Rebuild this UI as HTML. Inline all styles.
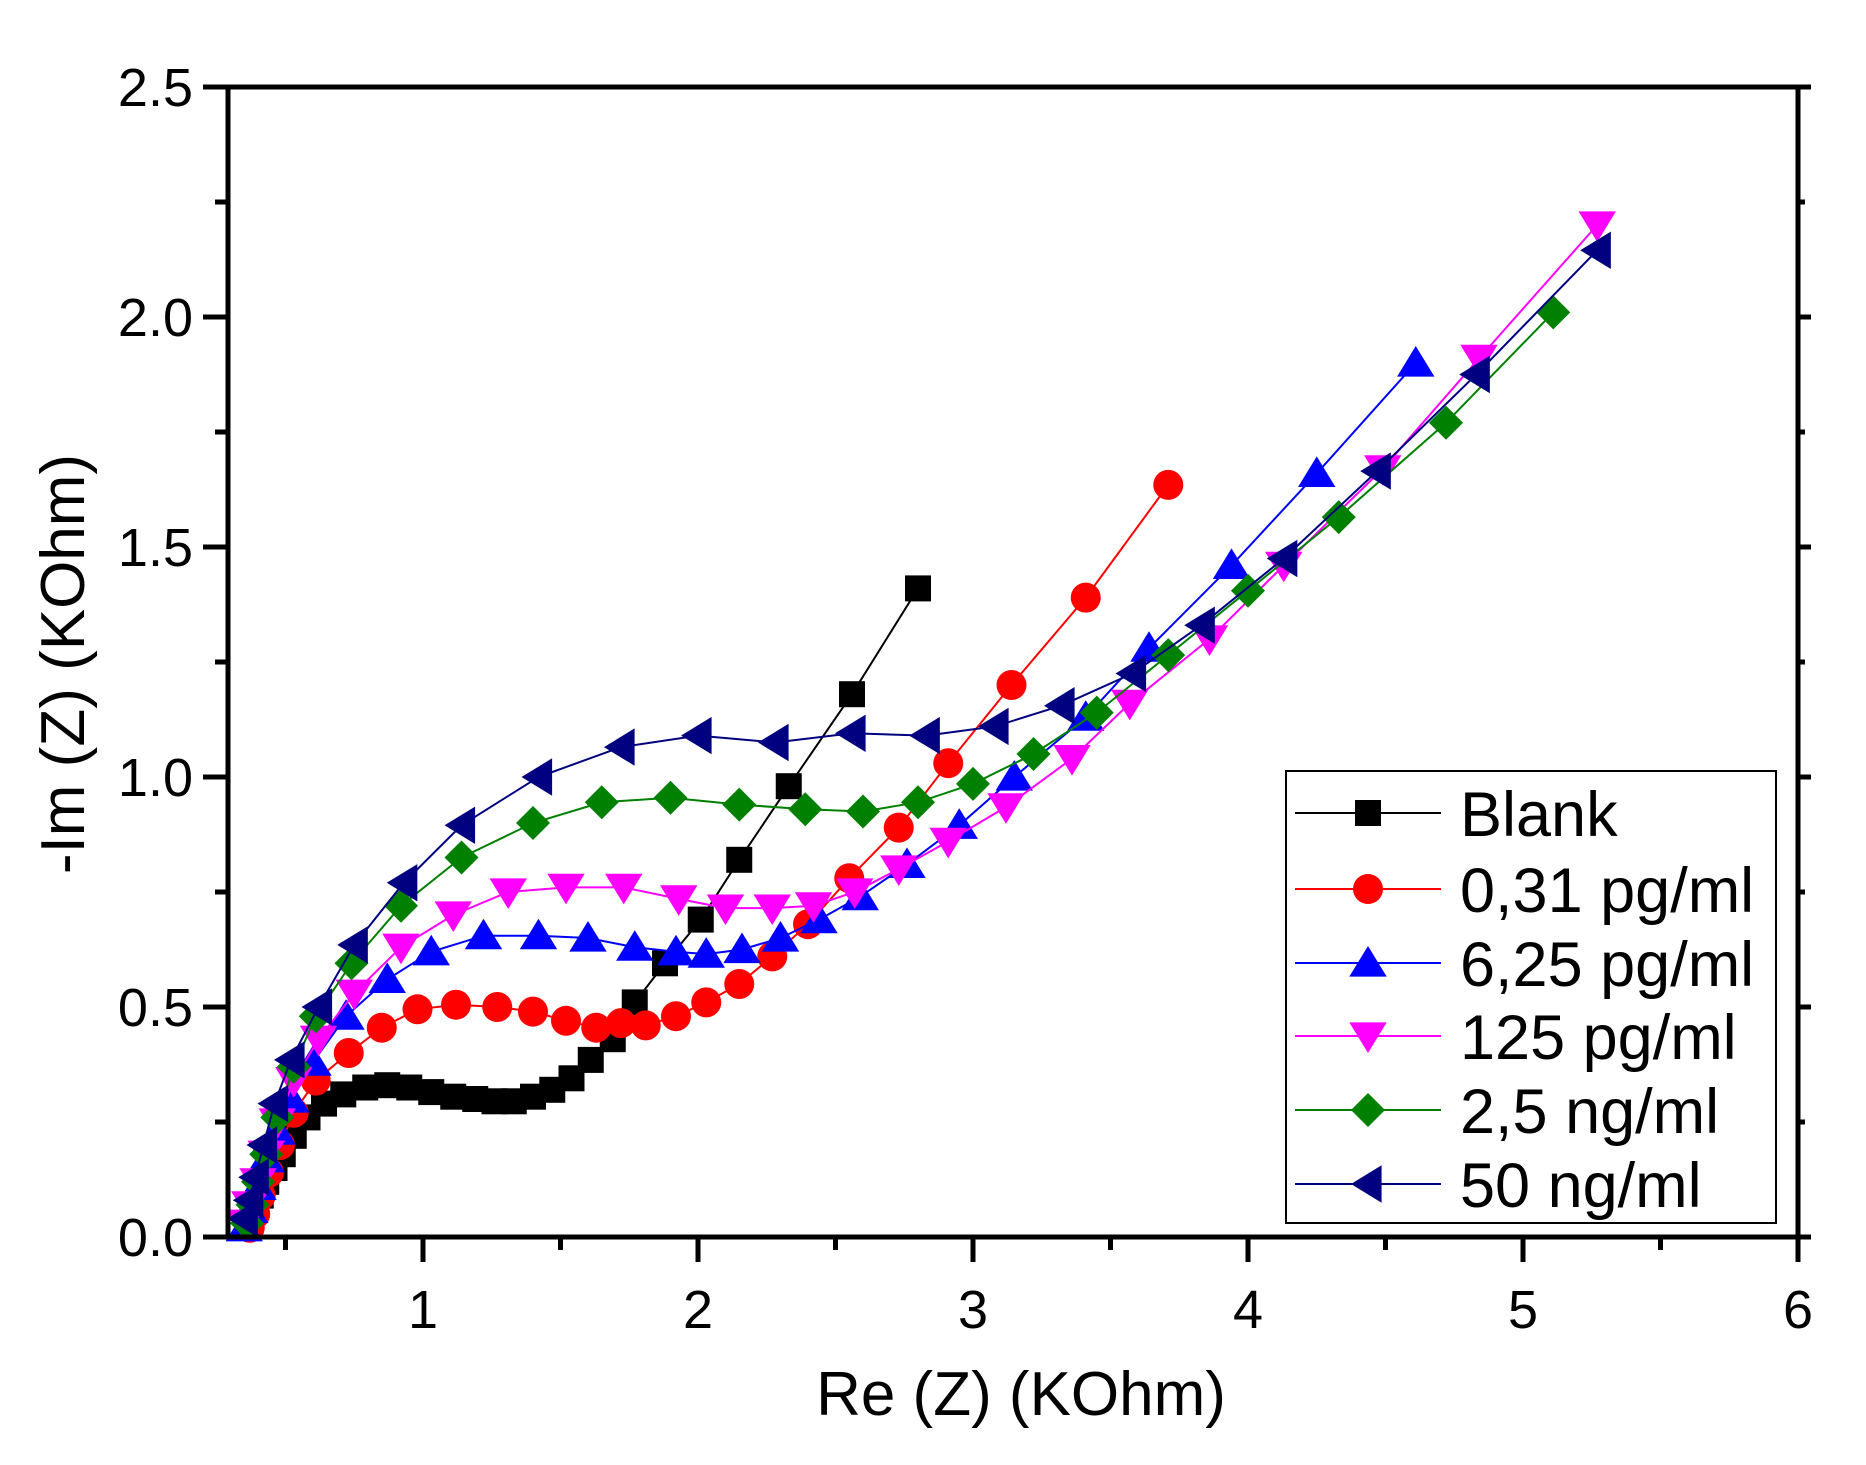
<!DOCTYPE html>
<html><head><meta charset="utf-8"><style>
html,body{margin:0;padding:0;background:#fff;}
svg{display:block;font-family:"Liberation Sans",Arial,sans-serif;}
</style></head><body>
<svg id="s" width="1866" height="1465" viewBox="0 0 1866 1465" xmlns="http://www.w3.org/2000/svg">
<rect width="1866" height="1465" fill="#fff"/>
<g id="plot"></g>
<g id="axes"></g>
<text x="1021" y="1415" font-size="62" text-anchor="middle">Re (Z) (KOhm)</text>
<text transform="translate(84,664) rotate(-90)" font-size="62" text-anchor="middle">-Im (Z) (KOhm)</text>
<g id="leg"></g>
</svg>
<script>
const NS="http://www.w3.org/2000/svg";
const X=x=>423+(x-1)*275, Y=y=>1237-y*460;
function el(p,t,a){const e=document.createElementNS(NS,t);for(const k in a)e.setAttribute(k,a[k]);p.appendChild(e);return e;}
const S=[
{c:"#000",m:"sq",d:[[0.37,0.03],[0.39,0.06],[0.41,0.09],[0.43,0.12],[0.46,0.15],[0.49,0.18],[0.53,0.22],[0.58,0.26],[0.64,0.29],[0.71,0.31],[0.79,0.325],[0.87,0.33],[0.95,0.325],[1.03,0.315],[1.11,0.305],[1.19,0.3],[1.26,0.295],[1.33,0.295],[1.40,0.305],[1.47,0.32],[1.54,0.345],[1.61,0.385],[1.69,0.43],[1.77,0.51],[1.88,0.595],[2.01,0.69],[2.15,0.82],[2.33,0.98],[2.56,1.18],[2.80,1.41]]},
{c:"#ff0000",m:"ci",d:[[0.37,0.02],[0.39,0.05],[0.41,0.09],[0.44,0.14],[0.48,0.2],[0.53,0.27],[0.61,0.34],[0.73,0.40],[0.85,0.455],[0.98,0.495],[1.12,0.505],[1.27,0.5],[1.40,0.49],[1.52,0.47],[1.63,0.455],[1.72,0.465],[1.81,0.46],[1.92,0.48],[2.03,0.51],[2.15,0.55],[2.27,0.61],[2.40,0.68],[2.55,0.78],[2.73,0.89],[2.91,1.03],[3.14,1.20],[3.41,1.39],[3.71,1.635]]},
{c:"#0000ff",m:"up",d:[[0.35,0.02],[0.37,0.06],[0.40,0.11],[0.43,0.17],[0.47,0.23],[0.52,0.30],[0.60,0.38],[0.72,0.48],[0.87,0.56],[1.03,0.62],[1.22,0.655],[1.42,0.655],[1.60,0.65],[1.77,0.63],[1.92,0.62],[2.03,0.615],[2.16,0.625],[2.30,0.65],[2.44,0.69],[2.59,0.74],[2.76,0.81],[2.95,0.895],[3.15,1.0],[3.41,1.13],[3.64,1.28],[3.94,1.46],[4.25,1.66],[4.61,1.9]]},
{c:"#ff00ff",m:"dn",d:[[0.35,0.03],[0.37,0.07],[0.40,0.12],[0.43,0.18],[0.47,0.25],[0.53,0.34],[0.62,0.43],[0.75,0.53],[0.92,0.63],[1.11,0.70],[1.31,0.75],[1.52,0.76],[1.73,0.76],[1.93,0.735],[2.10,0.715],[2.27,0.715],[2.42,0.72],[2.57,0.75],[2.73,0.80],[2.91,0.86],[3.12,0.935],[3.36,1.04],[3.57,1.16],[3.86,1.30],[4.13,1.46],[4.49,1.67],[4.84,1.91],[5.27,2.20]]},
{c:"#008000",m:"di",d:[[0.36,0.03],[0.38,0.07],[0.40,0.12],[0.43,0.18],[0.47,0.26],[0.53,0.37],[0.61,0.48],[0.74,0.595],[0.92,0.72],[1.14,0.825],[1.40,0.90],[1.65,0.945],[1.90,0.955],[2.15,0.94],[2.39,0.93],[2.60,0.925],[2.80,0.945],[3.00,0.985],[3.22,1.05],[3.45,1.14],[3.71,1.265],[4.00,1.405],[4.33,1.565],[4.72,1.77],[5.11,2.01]]},
{c:"#000080",m:"lt",d:[[0.35,0.04],[0.37,0.08],[0.39,0.13],[0.42,0.20],[0.46,0.29],[0.52,0.385],[0.62,0.50],[0.75,0.635],[0.93,0.77],[1.14,0.895],[1.42,1.0],[1.72,1.065],[2.00,1.09],[2.28,1.075],[2.56,1.095],[2.83,1.09],[3.08,1.11],[3.32,1.155],[3.58,1.225],[3.83,1.33],[4.13,1.475],[4.47,1.665],[4.83,1.875],[5.27,2.145]]}];
function mk(g,m,x,y,c){
 const r=17;
 if(m=="sq")el(g,"rect",{x:x-13,y:y-13,width:26,height:26,fill:c});
 else if(m=="ci")el(g,"circle",{cx:x,cy:y,r:15,fill:c});
 else if(m=="up")el(g,"polygon",{points:`${x},${y-r} ${x-r*1.1},${y+r*0.8} ${x+r*1.1},${y+r*0.8}`,fill:c});
 else if(m=="dn")el(g,"polygon",{points:`${x},${y+r} ${x-r*1.1},${y-r*0.8} ${x+r*1.1},${y-r*0.8}`,fill:c});
 else if(m=="di")el(g,"polygon",{points:`${x},${y-r} ${x+r},${y} ${x},${y+r} ${x-r},${y}`,fill:c});
 else el(g,"polygon",{points:`${x-r},${y} ${x+r*0.8},${y-r*1.1} ${x+r*0.8},${y+r*1.1}`,fill:c});
}
const P=document.getElementById("plot");
S.forEach(s=>{
 el(P,"polyline",{points:s.d.map(p=>X(p[0])+","+Y(p[1])).join(" "),fill:"none",stroke:s.c,"stroke-width":2});
 s.d.forEach(p=>mk(P,s.m,X(p[0]),Y(p[1]),s.c));
});
const A=document.getElementById("axes");
el(A,"rect",{x:228,y:87,width:1570,height:1150,fill:"none",stroke:"#000","stroke-width":5});
for(let v=0.5;v<=6;v+=0.5){const x=X(v),maj=Number.isInteger(v);
 el(A,"line",{x1:x,y1:1237,x2:x,y2:1237+(maj?25:13),stroke:"#000","stroke-width":5});
 if(maj){const t=el(A,"text",{x:x,y:1328,"font-size":54,"text-anchor":"middle"});t.textContent=v;}}
for(let i=0;i<=10;i++){const v=i*0.25,y=Y(v),maj=i%2==0;
 el(A,"line",{x1:228,y1:y,x2:228-(maj?25:13),y2:y,stroke:"#000","stroke-width":5});
 el(A,"line",{x1:1798,y1:y,x2:1798+(maj?13:7),y2:y,stroke:"#000","stroke-width":5});
 if(maj){const t=el(A,"text",{x:193,y:y+19,"font-size":54,"text-anchor":"end"});t.textContent=v.toFixed(1);}}
const L=document.getElementById("leg");
el(L,"rect",{x:1286,y:771,width:490,height:452,fill:"#fff",stroke:"#000","stroke-width":2});
const names=["Blank","0,31 pg/ml","6,25 pg/ml","125 pg/ml","2,5 ng/ml","50 ng/ml"];
const ly=[813,889,963,1036,1110,1184];
S.forEach((s,i)=>{el(L,"line",{x1:1295,y1:ly[i],x2:1441,y2:ly[i],stroke:s.c,"stroke-width":2});
 mk(L,s.m,1368,ly[i],s.c);
 const t=el(L,"text",{x:1460,y:ly[i]+23,"font-size":63});t.textContent=names[i];});
</script>
</body></html>
